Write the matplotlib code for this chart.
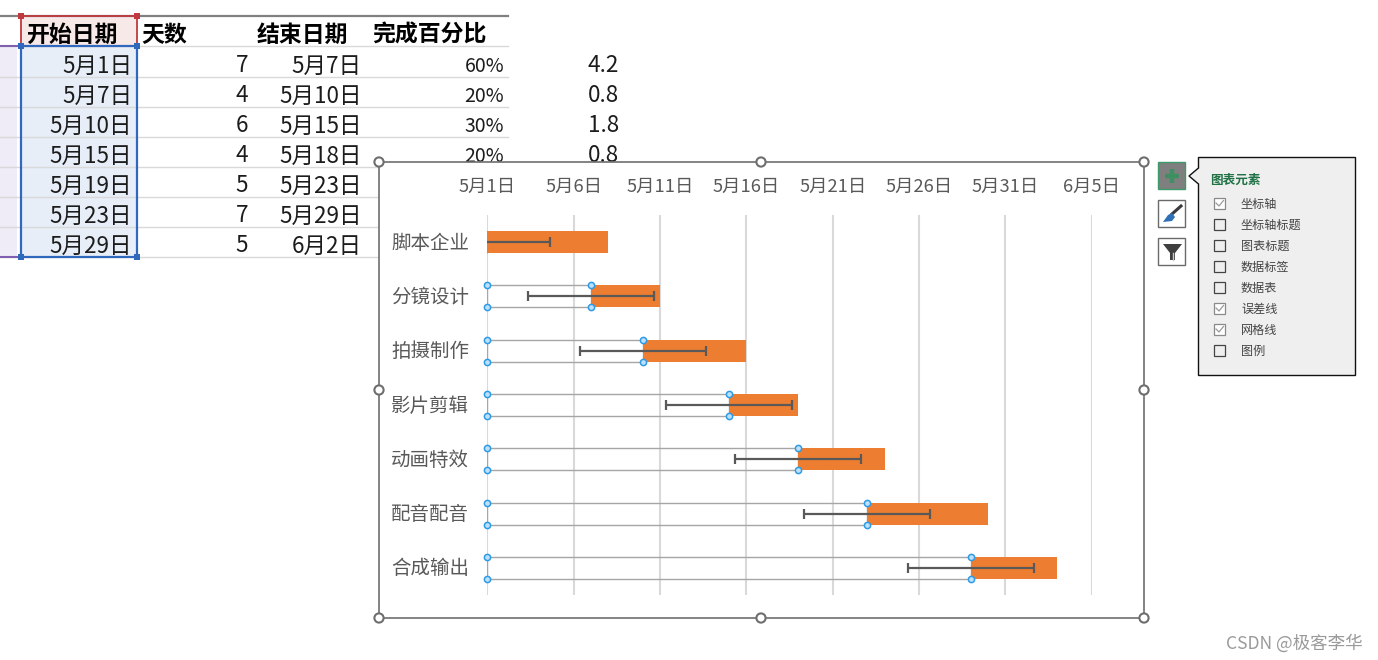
import matplotlib
matplotlib.use("Agg")
import matplotlib.pyplot as plt
import matplotlib.dates as mdates
from matplotlib.patches import Rectangle, Circle, Polygon
from matplotlib.transforms import ScaledTranslation
from datetime import date

plt.rcParams['font.family'] = ['Noto Sans CJK SC', 'DejaVu Sans']

W, H = 1378, 660

# ---------- data ----------
tasks = ['脚本企业', '分镜设计', '拍摄制作', '影片剪辑', '动画特效', '配音配音', '合成输出']
start_dates = ['2023-05-01', '2023-05-07', '2023-05-10', '2023-05-15', '2023-05-19', '2023-05-23', '2023-05-29']
durations = [7, 4, 6, 4, 5, 7, 5]
error_days = [3.65, 3.65, 3.65, 3.65, 3.65, 3.65, 3.65]
tick_dates = ['2023-05-01', '2023-05-06', '2023-05-11', '2023-05-16', '2023-05-21', '2023-05-26', '2023-05-31', '2023-06-05']
tick_labels = ['5月1日', '5月6日', '5月11日', '5月16日', '5月21日', '5月26日', '5月31日', '6月5日']

table_headers = ['开始日期', '天数', '结束日期', '完成百分比']
table_start = ['5月1日', '5月7日', '5月10日', '5月15日', '5月19日', '5月23日', '5月29日']
table_days = ['7', '4', '6', '4', '5', '7', '5']
table_end = ['5月7日', '5月10日', '5月15日', '5月18日', '5月23日', '5月29日', '6月2日']
table_pct = ['60%', '20%', '30%', '20%']
table_done = ['4.2', '0.8', '1.8', '0.8']

panel_title = '图表元素'
panel_items = ['坐标轴', '坐标轴标题', '图表标题', '数据标签', '数据表', '误差线', '网格线', '图例']
panel_checked = [True, False, False, False, False, True, True, False]

watermark = 'CSDN @极客李华'

# ---------- figure and pixel overlay ----------
fig = plt.figure(figsize=(W / 100, H / 100), dpi=100, facecolor='white')
bg = fig.add_axes([0, 0, 1, 1], zorder=0)
bg.set_xlim(0, W); bg.set_ylim(H, 0); bg.axis('off')

# ---------- worksheet ----------
ROW_Y = [46, 76.5, 106.5, 136.5, 166.5, 196.5, 226.5, 256.5]
bg.add_patch(Rectangle((21, 16), 116, 30, fc='#f8e9e9', ec='none'))
bg.add_patch(Rectangle((21, 47), 116, 209, fc='#e7eef8', ec='none'))
bg.add_patch(Rectangle((0, 47), 17, 209, fc='#efebf7', ec='none'))
bg.plot([0, 508], [16, 16], color='#808080', lw=1.6)
for y in ROW_Y:
    bg.plot([0, 508], [y, y], color='#d9d9d9', lw=1)
bg.plot([0, 17], [46, 46], color='#7f5fb0', lw=1.5)
bg.plot([0, 17], [256.5, 256.5], color='#7f5fb0', lw=1.5)
bg.plot([21, 137, 137, 21, 21], [16, 16, 46, 46, 16], color='#c0393f', lw=1.3)
bg.plot([21, 137, 137, 21, 21], [46, 46, 256.5, 256.5, 46], color='#2f68bd', lw=1.6)
for px, py in [(21, 16), (137, 16)]:
    bg.add_patch(Rectangle((px - 3, py - 3), 6, 6, fc='#c0393f', ec='none', zorder=3))
for px, py in [(21, 46), (137, 46), (21, 256.5), (137, 256.5)]:
    bg.add_patch(Rectangle((px - 3, py - 3), 6, 6, fc='#2f68bd', ec='none', zorder=3))

for text, x in zip(table_headers, [26, 141, 257, 372]):
    bg.text(x, 35.5, text, fontsize=16.5, fontweight='bold', color='black', ha='left', va='center')
row_mid = [66, 96, 126, 156, 186, 216, 246]
for i, y in enumerate(row_mid):
    bg.text(132, y, table_start[i], fontsize=16.2, color='#1c1c1c', ha='right', va='center')
    bg.text(248, y, table_days[i], fontsize=16.2, color='#1c1c1c', ha='right', va='center')
    bg.text(361.5, y, table_end[i], fontsize=16.2, color='#1c1c1c', ha='right', va='center')
for i in range(len(table_pct)):
    bg.text(504, row_mid[i], table_pct[i], fontsize=14, color='#1c1c1c', ha='right', va='center')
    bg.text(619, row_mid[i], table_done[i], fontsize=16.2, color='#1c1c1c', ha='right', va='center')

# ---------- chart frame ----------
bg.add_patch(Rectangle((379, 162), 765, 456, fc='white', ec='#6e6e6e', lw=1.2, zorder=5))
for hx in [379, 761, 1144]:
    for hy in [162, 390, 618]:
        if hx == 761 and hy == 390:
            continue
        bg.add_patch(Circle((hx, hy), 4.6, fc='white', ec='#6e6e6e', lw=1.5, zorder=6))

# ---------- chart axes ----------
left, right, top, bottom = 487.2, 1091.8, 215, 595
ax = fig.add_axes([left / W, 1 - bottom / H, (right - left) / W, (bottom - top) / H], zorder=2)
ax.patch.set_alpha(0)
starts = [mdates.date2num(date.fromisoformat(s)) for s in start_dates]
origin = mdates.date2num(date.fromisoformat(tick_dates[0]))
ypos = list(range(len(tasks)))
offsets = [s - origin for s in starts]
bar_h = 0.405

ax.barh(ypos, offsets, left=origin, height=bar_h, color='none', edgecolor='#a6a6a6', linewidth=1.0, zorder=3)
ax.barh(ypos, durations, left=starts, height=bar_h, color='#ed7d31', edgecolor='none', zorder=4)
ax.errorbar(starts, ypos, xerr=error_days, fmt='none', ecolor='#595959', elinewidth=1.6,
            capsize=3.4, capthick=1.6, zorder=5)
# selection handles on the hidden series
hx = [o for s in starts[1:] for o in (origin, s)]
for yoff in (-bar_h / 2, bar_h / 2):
    ax.scatter(hx, [y + yoff for y in ypos[1:] for _ in (0, 1)], s=20, facecolor='#bfe0fa',
               edgecolor='#2e9be6', linewidth=1.1, zorder=6, clip_on=False)

ax.set_xlim(origin, mdates.date2num(date.fromisoformat(tick_dates[-1])))
ax.set_ylim(len(tasks) - 0.5, -0.5)
ax.set_yticks(ypos, tasks)
ax.set_xticks([mdates.date2num(date.fromisoformat(d)) for d in tick_dates], tick_labels)
ax.xaxis.tick_top()
ax.tick_params(axis='x', length=0, pad=13.5, labelsize=13.2, labelcolor='#595959')
ax.tick_params(axis='y', length=0, pad=13, labelsize=14, labelcolor='#595959')
shift_up = ScaledTranslation(0, 1.5 / 100, fig.dpi_scale_trans)
for lab in ax.get_yticklabels():
    lab.set_transform(lab.get_transform() + shift_up)
ax.grid(axis='x', color='#d9d9d9', lw=1.5, zorder=1)
ax.set_axisbelow(True)
for s in ax.spines.values():
    s.set_visible(False)

# ---------- chart-element side buttons and popup ----------
bg.add_patch(Rectangle((1158, 162), 27, 27, fc='#7f7f7f', ec='#3f9a6a', lw=1, zorder=5))
bg.plot([1172, 1172], [169, 183], color='#3f8f63', lw=3.2, solid_capstyle='butt', zorder=6)
bg.plot([1165, 1179], [176, 176], color='#3f8f63', lw=3.2, solid_capstyle='butt', zorder=6)
bg.add_patch(Rectangle((1158, 200), 27, 27, fc='white', ec='#6a6a6a', lw=1, zorder=5))
bg.plot([1172, 1181], [214, 206], color='#3a3a3a', lw=2.2, zorder=6)
bg.add_patch(Polygon([[1163, 222], [1168, 215], [1172, 213], [1175, 217], [1172, 221]], fc='#2f6fb5', ec='none', zorder=6))
bg.add_patch(Rectangle((1158, 238), 27, 27, fc='white', ec='#6a6a6a', lw=1, zorder=5))
bg.add_patch(Polygon([[1163, 244], [1182, 244], [1175, 253], [1175, 260], [1170, 260], [1170, 253]],
                     fc='#3f3f3f', ec='none', zorder=6))
bg.plot([1172.5, 1172.5], [253, 260], color='#c8c8c8', lw=1, zorder=7)

bg.add_patch(Polygon([[1198.5, 157.5], [1355.5, 157.5], [1355.5, 375.5], [1198.5, 375.5], [1198.5, 184],
                      [1189, 176], [1198.5, 168]], fc='#efefef', ec='#111111', lw=1, zorder=5))
bg.text(1210, 180, panel_title, fontsize=9.1, fontweight='bold', color='#217346', ha='left', va='center', zorder=6)
for i, (item, checked) in enumerate(zip(panel_items, panel_checked)):
    y = 203.5 + i * 21
    bg.add_patch(Rectangle((1214, y - 5.5), 11, 11, fc='white' if checked else '#efefef',
                           ec='#8a8a8a' if checked else '#444444', lw=0.9, zorder=6))
    if checked:
        bg.plot([1216, 1219, 1223.5], [y - 0.5, y + 2.5, y - 3], color='#9a9a9a', lw=0.9, zorder=7)
    bg.text(1241, y + 1, item, fontsize=8.7, color='#444444', ha='left', va='center', zorder=6)

bg.text(1363, 643, watermark, fontsize=12.6, color='#9a9a9a', ha='right', va='center', zorder=6)

fig.savefig('out.png', dpi=100, facecolor='white')
